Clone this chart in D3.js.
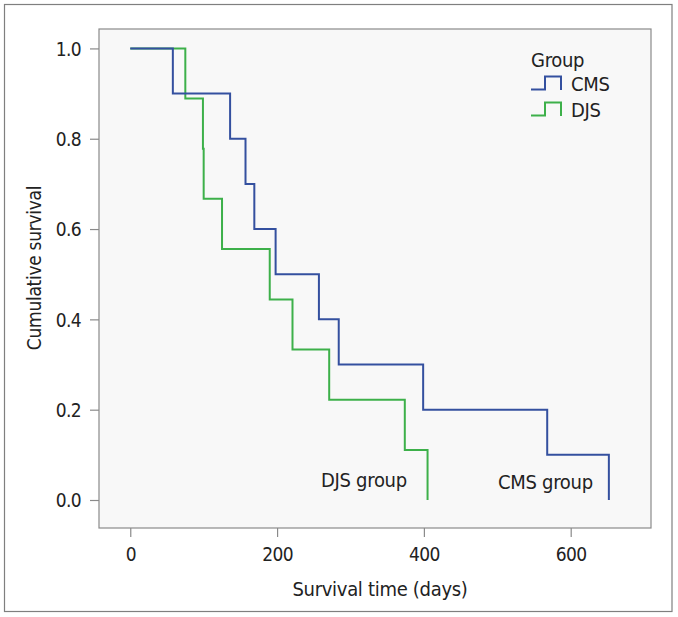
<!DOCTYPE html>
<html>
<head>
<meta charset="utf-8">
<script src="https://cdn.jsdelivr.net/npm/d3@7"></script>
<style>
  html, body { margin: 0; padding: 0; background: #fff; }
  svg text { font-family: "Liberation Sans Narrow", "Arial Narrow", "DejaVu Sans Condensed", sans-serif; fill: #222; letter-spacing: -0.3px; }
</style>
</head>
<body>
<svg id="chart" width="678" height="617"></svg>
<script>
// ---- data ----
const groups = ["CMS", "DJS"];
const cmsTimes = [58, 136, 157, 169, 198, 257, 284, 399, 568, 652];
const cmsSurvival = [0.9, 0.8, 0.7, 0.6, 0.5, 0.4, 0.3, 0.2, 0.1, 0.0];
const djsTimes = [75, 99, 100, 125, 190, 221, 271, 374, 405];
const djsSurvival = [0.889, 0.778, 0.667, 0.556, 0.444, 0.333, 0.222, 0.111, 0.0];
const xTicks = [0, 200, 400, 600];
const yTicks = [0.0, 0.2, 0.4, 0.6, 0.8, 1.0];
const endLabels = ["CMS group", "DJS group"];
const colors = { CMS: "#34509f", DJS: "#3db04a" };

// ---- layout ----
const svg = d3.select("#chart");
const plot = { left: 99, top: 29, right: 651, bottom: 528 };
const FS = 20;

const x = d3.scaleLinear().domain([-42.6, 709.4]).range([plot.left, plot.right]);
const y = d3.scaleLinear().domain([-0.062, 1.043]).range([plot.bottom, plot.top]);

// outer frame
svg.append("rect").attr("x", 4.5).attr("y", 4.5).attr("width", 667.5).attr("height", 607)
  .attr("fill", "#fff").attr("stroke", "#7f7f7f").attr("stroke-width", 1.2);

// plot background/frame
svg.append("rect").attr("x", plot.left).attr("y", plot.top)
  .attr("width", plot.right - plot.left).attr("height", plot.bottom - plot.top)
  .attr("fill", "#f8f8f8").attr("stroke", "#8a8a8a").attr("stroke-width", 1.2);

// axes
const xAxis = svg.append("g").attr("transform", `translate(0,${plot.bottom})`)
  .call(d3.axisBottom(x).tickValues(xTicks).tickSize(9).tickPadding(8).tickFormat(d3.format("d")));
const yAxis = svg.append("g").attr("transform", `translate(${plot.left},0)`)
  .call(d3.axisLeft(y).tickValues(yTicks).tickSize(9).tickPadding(9).tickFormat(d3.format(".1f")));
[xAxis, yAxis].forEach(g => {
  g.select(".domain").remove();
  g.selectAll(".tick line").attr("stroke", "#8a8a8a").attr("stroke-width", 1.2);
  g.selectAll(".tick text").attr("font-size", 19).attr("fill", "#222")
    .style("letter-spacing", "-0.6px")
    .style("font-family", '"Liberation Sans Narrow", "Arial Narrow", "DejaVu Sans Condensed", sans-serif');
});
xAxis.selectAll(".tick text").attr("dy", null).attr("y", 33);
yAxis.selectAll(".tick text").attr("dy", "0.36em");

// axis titles
svg.append("text").attr("x", 380).attr("y", 596).attr("text-anchor", "middle")
  .attr("font-size", FS).text("Survival time (days)");
svg.append("text").attr("transform", "translate(41,268) rotate(-90)").attr("text-anchor", "middle")
  .attr("font-size", 19).text("Cumulative survival");

// survival curves
const line = d3.line().x(d => x(d[0])).y(d => y(d[1])).curve(d3.curveStepAfter);
function pts(times, surv) {
  return [[0, 1]].concat(times.map((t, i) => [t, surv[i]]));
}
const series = [
  { name: "DJS", data: pts(djsTimes, djsSurvival) },
  { name: "CMS", data: pts(cmsTimes, cmsSurvival) }
];
svg.append("g").selectAll("path").data(series).join("path")
  .attr("d", d => line(d.data))
  .attr("fill", "none")
  .attr("stroke", d => colors[d.name])
  .attr("stroke-width", 2);

// end labels
svg.append("text").attr("x", 498).attr("y", 489).attr("font-size", FS).text(endLabels[0]);
svg.append("text").attr("x", 321).attr("y", 487).attr("font-size", FS).text(endLabels[1]);

// legend
const lg = svg.append("g");
lg.append("text").attr("x", 531).attr("y", 67).attr("font-size", FS).text("Group");
groups.forEach((gname, i) => {
  const yb = 90 + i * 26;
  lg.append("path")
    .attr("d", `M531,${yb - 0.5} H545 V${yb - 13.5} H561 V${yb}`)
    .attr("fill", "none").attr("stroke", colors[gname]).attr("stroke-width", 2);
  lg.append("text").attr("x", 571).attr("y", yb + 1).attr("font-size", FS).text(gname);
});
</script>
</body>
</html>
